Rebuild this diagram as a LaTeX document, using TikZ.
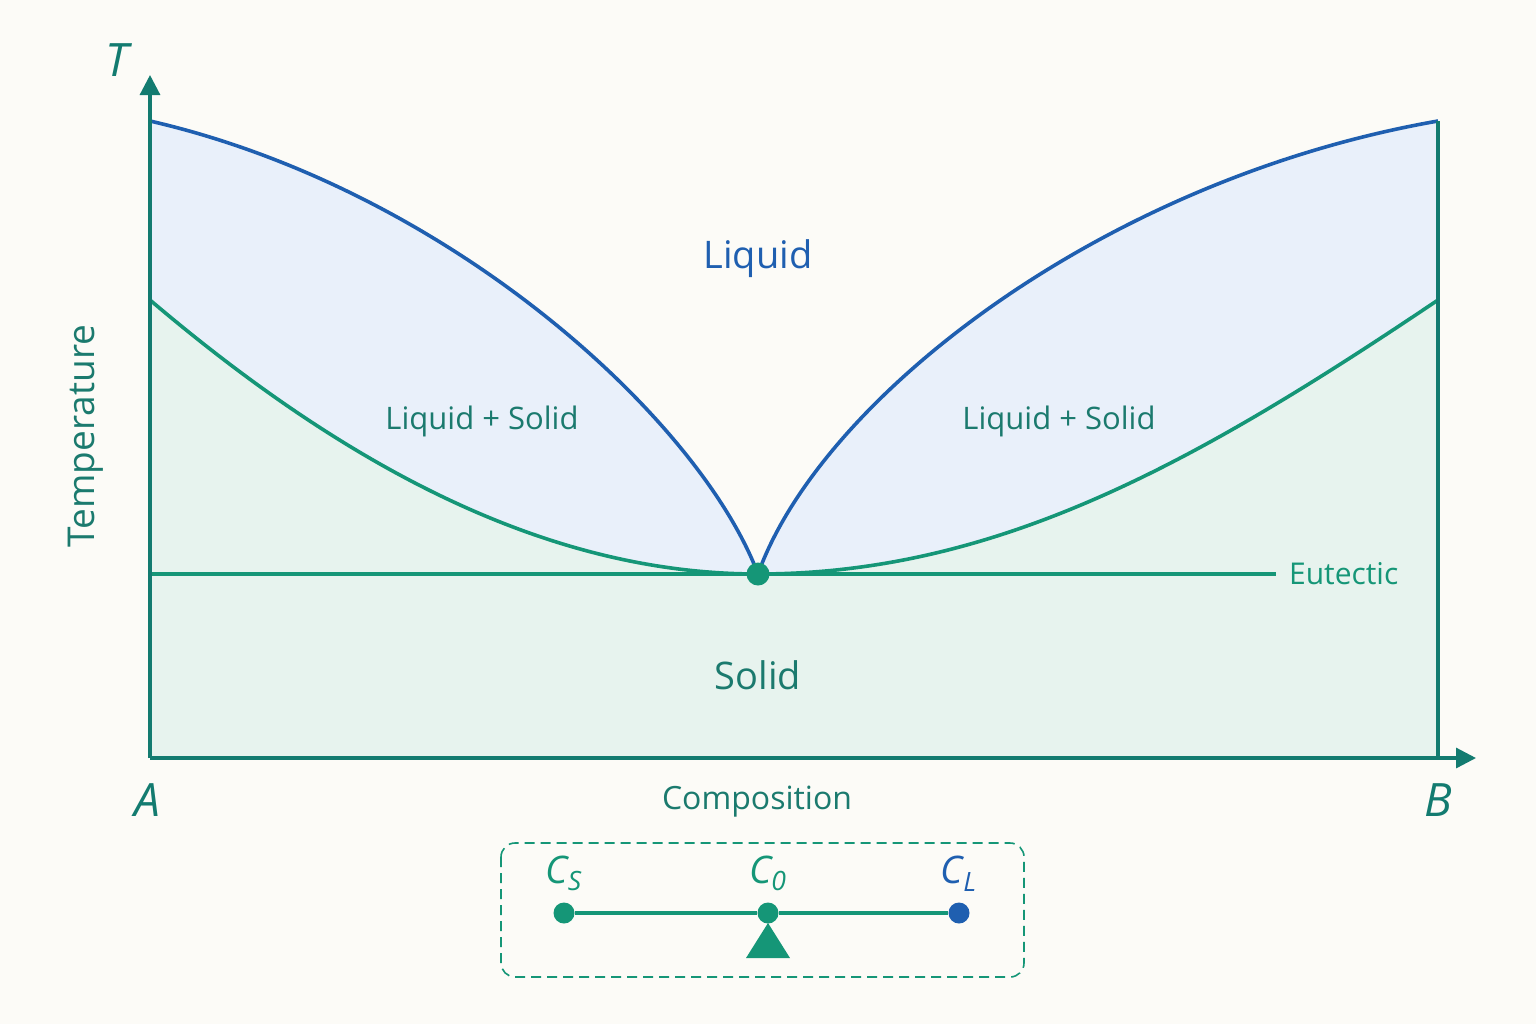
\documentclass[tikz,border=0pt]{standalone}
\usepackage{fontspec}
\setmainfont{Open Sans}
\usetikzlibrary{arrows.meta,positioning}
\definecolor{bgcol}{HTML}{FCFBF7}
\definecolor{axiscol}{HTML}{137B70}
\definecolor{liqcol}{HTML}{1F5FB0}
\definecolor{solcol}{HTML}{159677}
\definecolor{txtcol}{HTML}{1B7A6E}
\definecolor{liqfill}{HTML}{E9F0FA}
\definecolor{solfill}{HTML}{E7F3EE}

\begin{document}
\begin{tikzpicture}[
        x=0.5pt, y=-0.5pt,
        region/.style={font=\fontsize{15.5}{18}\selectfont, text=txtcol},
        axislabel/.style={font=\fontsize{16}{19}\selectfont, text=txtcol},
        corner/.style={font=\fontsize{23}{26}\selectfont\itshape, text=axiscol},
        dot/.style={circle, inner sep=0pt, minimum size=10.5pt},
        >={Triangle[length=10pt,width=10pt]}
    ]
        \fill[bgcol] (0,0) rectangle (1536,1024);

        % corners of the diagram
        \coordinate (O) at (150,758);
        \coordinate (BR) at (1438,758);
        \coordinate (Ltop) at (150,121);
        \coordinate (Rtop) at (1438,121);
        \coordinate (Lsol) at (150,300);
        \coordinate (Rsol) at (1438,300);
        \coordinate (E) at (758,574);
        \coordinate (Eleft) at (150,574);
        \coordinate (Eright) at (1276,574);

        % two-phase and solid regions
        \fill[liqfill] (O) -- (Ltop) .. controls (450,190) and (700,420) .. (E)
            .. controls (820,400) and (1100,180) .. (Rtop) -- (BR) -- cycle;
        \fill[solfill] (O) -- (Lsol) .. controls (350,470) and (550,574) .. (E)
            .. controls (1000,574) and (1200,460) .. (Rsol) -- (BR) -- cycle;

        % liquidus and solidus
        \draw[liqcol, line width=1.8pt] (Ltop) .. controls (450,190) and (700,420) .. (E)
            .. controls (820,400) and (1100,180) .. (Rtop);
        \draw[solcol, line width=1.8pt] (Lsol) .. controls (350,470) and (550,574) .. (E)
            .. controls (1000,574) and (1200,460) .. (Rsol);
        \draw[solcol, line width=1.8pt] (Eleft) -- (Eright);
        \node[right=3pt of Eright, font=\fontsize{15}{18}\selectfont, text=solcol] (eut) {Eutectic};
        \node[dot, fill=solcol, minimum size=11.5pt] (ept) at (E) {};

        % axes
        \coordinate (Ttip) at (150,75);
        \coordinate (Btip) at (1476,758);
        \draw[axiscol, line width=1.6pt] (BR) -- (Rtop);
        \draw[axiscol, line width=1.6pt, ->] (O) -- (Ttip);
        \draw[axiscol, line width=1.6pt, ->] (O) -- (Btip);

        \node[corner] (T) at (117,60) {T};
        \node[corner] (A) at (147,800) {A};
        \node[corner] (B) at (1438,800) {B};
        \node[font=\fontsize{18.5}{21}\selectfont, text=txtcol, rotate=90] (temp) at (86,436) {Temperature};
        \node[axislabel] (comp) at (757,802) {Composition};

        \node[font=\fontsize{19}{22}\selectfont, text=liqcol] (liq) at (758,259) {Liquid};
        \node[region] (ls1) at (482,421) {Liquid + Solid};
        \node[region] (ls2) at (1059,421) {Liquid + Solid};
        \node[font=\fontsize{19}{22}\selectfont, text=txtcol] (sol) at (758,675) {Solid};

        % lever rule
        \draw[solcol, line width=0.8pt, dashed, dash pattern=on 5pt off 3pt, rounded corners=7pt]
            (501,843) rectangle (1024,977);
        \node[dot, fill=solcol] (cs) at (564,913) {};
        \node[dot, fill=solcol] (c0) at (768,913) {};
        \node[dot, fill=liqcol] (cl) at (959,913) {};
        \draw[solcol, line width=1.7pt] (cs) -- (c0) -- (cl);
        \fill[solcol] (768,923) -- (790,958) -- (746,958) -- cycle;
        \node[font=\fontsize{19}{22}\selectfont\itshape, text=solcol, above=2pt of cs] (csl) {C\textsubscript{S}};
        \node[font=\fontsize{19}{22}\selectfont\itshape, text=solcol, above=2pt of c0] (c0l) {C\textsubscript{0}};
        \node[font=\fontsize{19}{22}\selectfont\itshape, text=liqcol, above=2pt of cl] (cll) {C\textsubscript{L}};
    \end{tikzpicture}
\end{document}
